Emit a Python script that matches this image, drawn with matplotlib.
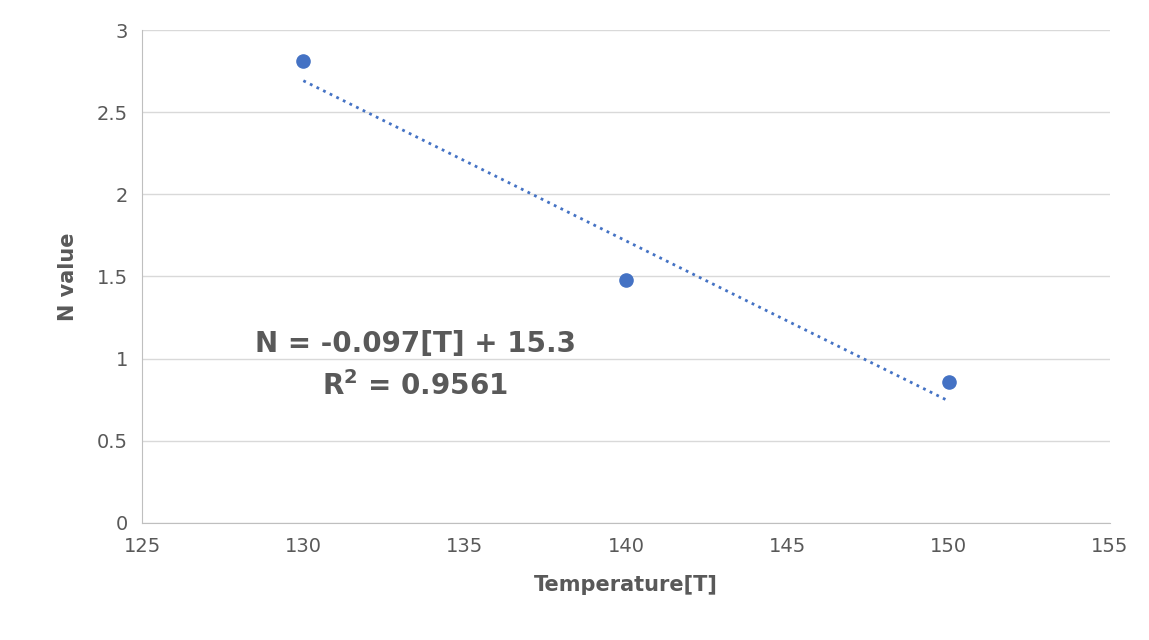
import numpy as np
import matplotlib.pyplot as plt

temperature = [130, 140, 150]
n_value = [2.81, 1.48, 0.86]
x_ticks = [125, 130, 135, 140, 145, 150, 155]
y_ticks = [0, 0.5, 1, 1.5, 2, 2.5, 3]

fig = plt.figure(figsize=(11.49, 6.4), dpi=100)
ax = fig.add_axes([0.1236, 0.183, 0.8425, 0.77])

slope, intercept = np.polyfit(temperature, n_value, 1)
tx = np.array([temperature[0], temperature[-1]])
ax.plot(tx, slope * tx + intercept, linestyle=':', color='#4472C4', lw=2)
ax.scatter(temperature, n_value, s=90, color='#4472C4', zorder=3)

ax.set_xlim(125, 155)
ax.set_ylim(0, 3)
ax.set_xticks(x_ticks)
ax.set_yticks(y_ticks)
ax.set_yticklabels([f'{v:g}' for v in y_ticks])
ax.grid(axis='y', color='#d9d9d9', lw=1)
ax.set_axisbelow(True)
for s in ['top', 'right']:
    ax.spines[s].set_visible(False)
for s in ['left', 'bottom']:
    ax.spines[s].set_color('#bfbfbf')
ax.tick_params(length=0, labelsize=14, colors='#595959', pad=10)

ax.set_xlabel('Temperature[T]', fontsize=15, fontweight='bold', color='#595959', labelpad=14)
ax.set_ylabel('N value', fontsize=15, fontweight='bold', color='#595959', labelpad=14)

ax.text(0.282, 0.364, 'N = -0.097[T] + 15.3', transform=ax.transAxes, ha='center',
        va='center', fontsize=20, fontweight='bold', color='#595959')
ax.text(0.282, 0.278, '$\\mathbf{R^2}$ = 0.9561', transform=ax.transAxes, ha='center',
        va='center', fontsize=20, fontweight='bold', color='#595959')

fig.savefig('out.png')
